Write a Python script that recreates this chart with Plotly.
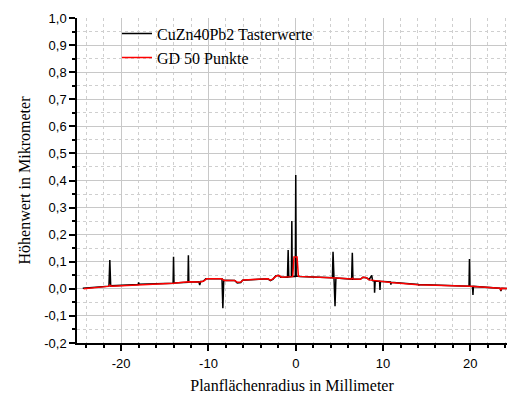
import plotly.graph_objects as go

# Black series: CuZn40Pb2 Tasterwerte (probe values)
black_x = [-24.4, -21.4, -21.3, -21.2, -18.05, -18.0, -17.95, -14.05, -14.0, -13.95,
           -12.35, -12.3, -12.25, -11.1, -11.0, -10.9, -10.6, -10.3, -8.45, -8.35,
           -8.25, -7.0, -6.7, -6.3, -6.1, -3.2, -2.9, -2.6, -2.3, -2.0,
           -1.7, -0.95, -0.87, -0.8, -0.5, -0.45, -0.4, -0.05, 0.0, 0.05,
           0.5, 4.2, 4.27, 4.35, 4.5, 4.6, 6.4, 6.48, 6.55, 7.4,
           7.7, 8.1, 8.4, 8.7, 8.8, 9.0, 9.03, 9.1, 9.6, 9.65,
           9.7, 10.85, 10.9, 10.95, 14.05, 14.1, 14.15, 19.85, 19.9, 19.95,
           20.25, 20.3, 20.35, 23.4, 23.5, 23.6, 24.3]
black_y = [0.002, 0.010, 0.106, 0.011, 0.016, 0.024, 0.017, 0.021, 0.118, 0.022,
           0.024, 0.124, 0.025, 0.026, 0.014, 0.027, 0.028, 0.037, 0.037, -0.072,
           0.032, 0.031, 0.022, 0.023, 0.032, 0.037, 0.030, 0.036, 0.048, 0.050,
           0.043, 0.043, 0.143, 0.044, 0.045, 0.25, 0.046, 0.046, 0.42, 0.047,
           0.046, 0.041, 0.137, 0.040, -0.064, 0.040, 0.036, 0.133, 0.036, 0.035,
           0.043, 0.041, 0.034, 0.050, 0.030, 0.029, -0.014, 0.029, 0.028, -0.004,
           0.028, 0.025, 0.016, 0.024, 0.016, 0.012, 0.016, 0.010, 0.110, 0.010,
           0.009, -0.023, 0.009, 0.002, -0.008, 0.002, 0.001]

# Red series: GD 50 Punkte (smoothed)
red_x = [-24.3, -21.5, -21.3, -21.1, -14.0, -12.3, -11.0, -10.6, -10.2, -8.5,
         -8.2, -7.0, -6.7, -6.3, -6.0, -3.2, -2.9, -2.6, -2.2, -1.9,
         -1.6, -0.35, -0.2, 0.15, 0.3, 4.2, 4.4, 4.6, 6.4, 6.5,
         6.6, 7.4, 7.7, 8.1, 8.4, 10.9, 14.0, 20.0, 23.4, 23.5,
         23.6, 24.3]
red_y = [0.0, 0.009, 0.014, 0.010, 0.021, 0.026, 0.025, 0.028, 0.037, 0.037,
         0.031, 0.031, 0.024, 0.025, 0.033, 0.037, 0.032, 0.037, 0.048, 0.049,
         0.043, 0.045, 0.118, 0.118, 0.046, 0.041, 0.043, 0.040, 0.036, 0.039,
         0.036, 0.035, 0.043, 0.041, 0.033, 0.023, 0.015, 0.010, 0.002, -0.005,
         0.002, 0.001]

x_tickvals = [-20, -10, 0, 10, 20]
x_ticktext = ["-20", "-10", "0", "10", "20"]
y_tickvals = [-0.2, -0.1, 0.0, 0.1, 0.2, 0.3, 0.4, 0.5, 0.6, 0.7, 0.8, 0.9, 1.0]
y_ticktext = ["-0,2", "-0,1", "0,0", "0,1", "0,2", "0,3", "0,4", "0,5",
              "0,6", "0,7", "0,8", "0,9", "1,0"]

serif = "Liberation Serif"
sans = "Liberation Sans"

fig = go.Figure()
fig.add_trace(go.Scatter(x=black_x, y=black_y, mode="lines",
                         name="CuZn40Pb2 Tasterwerte",
                         line=dict(color="black", width=1.5)))
fig.add_trace(go.Scatter(x=red_x, y=red_y, mode="lines",
                         name="GD 50 Punkte",
                         line=dict(color="red", width=1.5)))

# white area behind legend covering the grid
fig.add_shape(type="rect", xref="paper", yref="paper",
              x0=0.003, x1=0.633, y0=0.828, y1=1.0,
              fillcolor="white", line=dict(width=0), layer="between")

fig.update_layout(
    width=507, height=394,
    margin=dict(l=77, r=0, t=18, b=51),
    paper_bgcolor="white", plot_bgcolor="white",
    showlegend=True,
    legend=dict(x=0.093, y=1.004, xanchor="left", yanchor="top",
                bgcolor="rgba(0,0,0,0)",
                font=dict(family=serif, size=16, color="black"),
                tracegroupgap=0, itemwidth=30),
)

fig.update_xaxes(
    range=[-25.06, 24.2],
    tickmode="array", tickvals=x_tickvals, ticktext=x_ticktext,
    showline=True, linecolor="black", linewidth=1.5,
    ticks="outside", ticklen=6, tickwidth=1.5, tickcolor="black",
    ticklabelstandoff=2,
    showgrid=True, gridcolor="#c8c8c8", gridwidth=1,
    zeroline=False,
    minor=dict(tickmode="linear", tick0=0, dtick=2, ticks="outside", ticklen=3,
               tickcolor="black", tickwidth=1.5,
               showgrid=True, gridcolor="#cfcfcf", griddash="dot", gridwidth=1),
    tickfont=dict(family=sans, size=13, color="black"),
    title=dict(text="Planflächenradius in Millimeter",
               font=dict(family=serif, size=16, color="black"), standoff=9),
)
fig.update_yaxes(
    range=[-0.2, 1.0],
    tickmode="array", tickvals=y_tickvals, ticktext=y_ticktext,
    showline=True, linecolor="black", linewidth=1.5,
    ticks="outside", ticklen=6, tickwidth=1.5, tickcolor="black",
    showgrid=True, gridcolor="#c8c8c8", gridwidth=1,
    zeroline=False,
    minor=dict(tickmode="linear", tick0=0, dtick=0.05, ticks="outside", ticklen=3,
               tickcolor="black", tickwidth=1.5,
               showgrid=True, gridcolor="#cfcfcf", griddash="dot", gridwidth=1),
    tickfont=dict(family=sans, size=13, color="black"),
    title=dict(text="Höhenwert in Mikrometer",
               font=dict(family=serif, size=16, color="black"), standoff=10),
)

fig.write_html("out.html")
